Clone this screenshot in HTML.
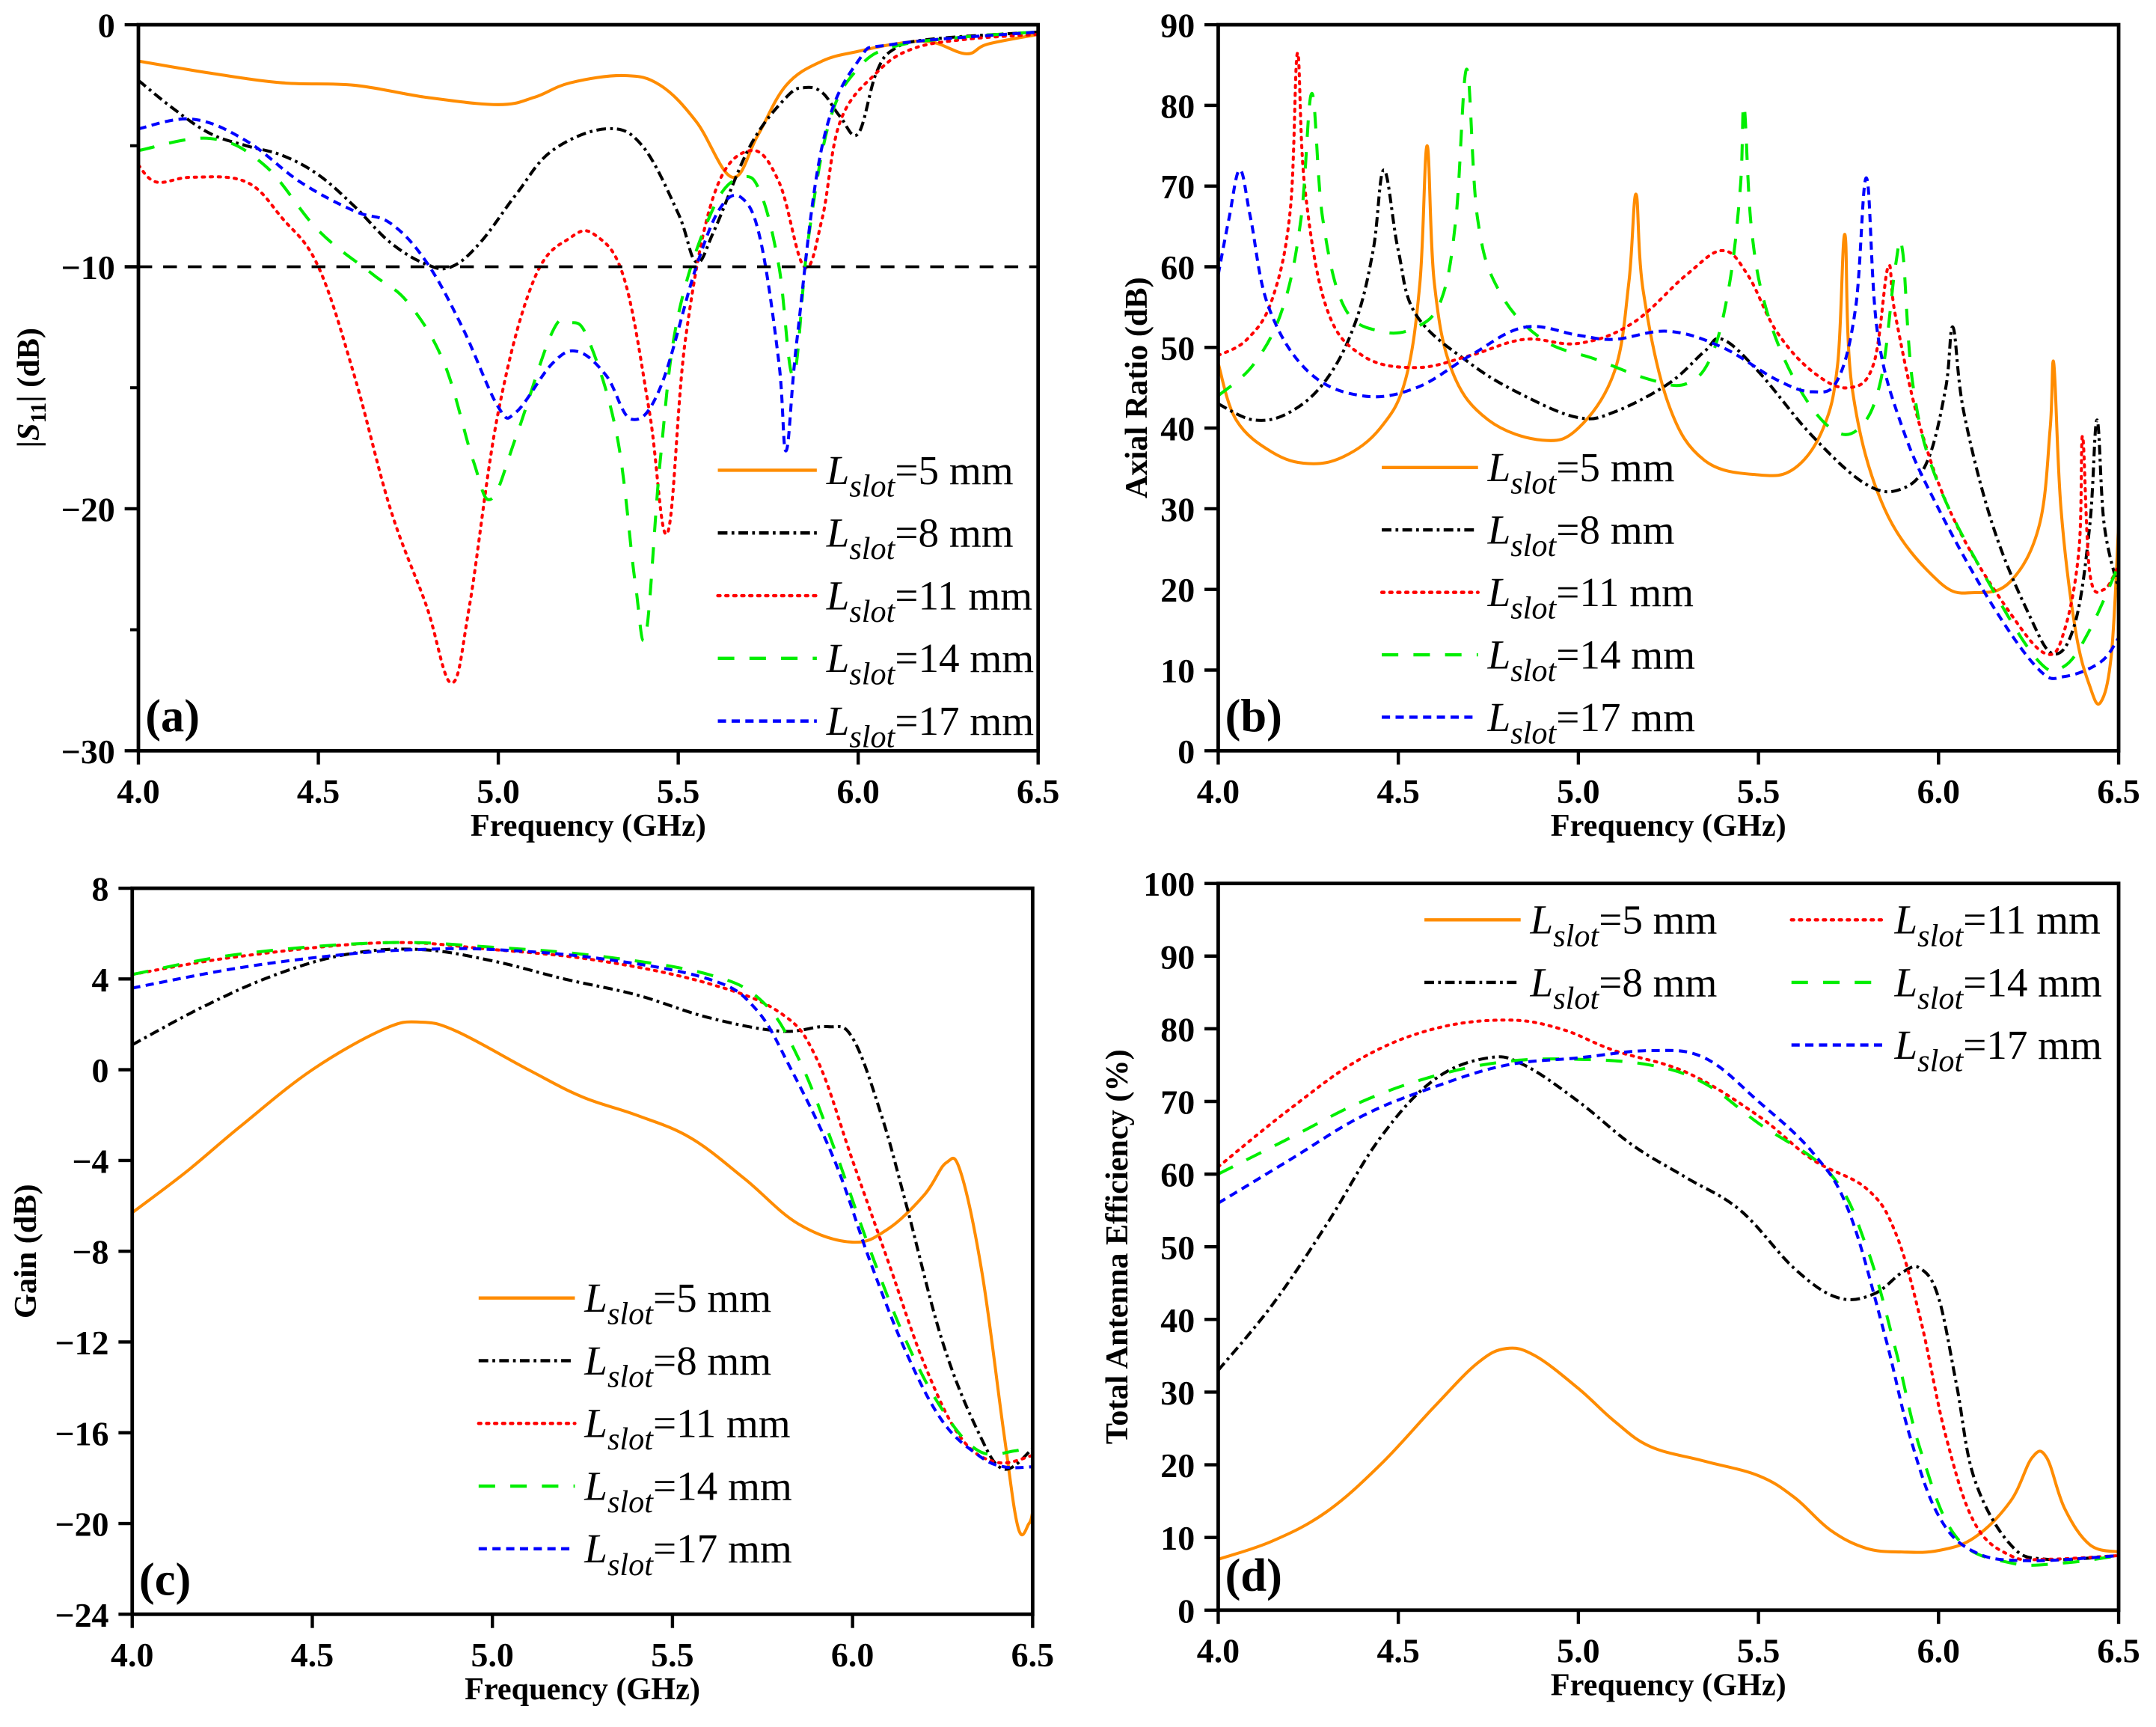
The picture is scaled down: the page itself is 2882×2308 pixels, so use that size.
<!DOCTYPE html>
<html><head><meta charset="utf-8"><style>
html,body{margin:0;padding:0;background:#fff;}
svg{display:block;}
text{font-family:"Liberation Serif",serif;}
.tk{font-size:25px;font-weight:bold;fill:#000;}
.ttl{font-size:23px;font-weight:bold;fill:#000;}
.lg{font-size:30px;fill:#000;}
.pl{font-size:34px;font-weight:bold;fill:#000;}
</style></head><body>
<svg id="fig" width="2882" height="2308" viewBox="0 0 1568 1256" xmlns="http://www.w3.org/2000/svg"></svg>
<script>
// ---------- data ----------
const seriesNames=["5","8","11","14","17"];
const aTicksY=[0,-10,-20,-30];
const bTicksY=[0,10,20,30,40,50,60,70,80,90];
const cTicksY=[8,4,0,-4,-8,-12,-16,-20,-24];
const dTicksY=[0,10,20,30,40,50,60,70,80,90,100];
const xTicks=[4.0,4.5,5.0,5.5,6.0,6.5];
const s11_5=[[4.0,-1.5],[4.2,-2],[4.4,-2.4],[4.6,-2.5],[4.8,-3],[5.0,-3.3],[5.1,-3],[5.2,-2.4],[5.35,-2.1],[5.45,-2.5],[5.55,-4],[5.65,-6.3],[5.72,-4.6],[5.8,-2.5],[5.9,-1.5],[6.0,-1.1],[6.1,-0.8],[6.2,-0.7],[6.3,-1.2],[6.36,-0.8],[6.5,-0.4]];
const s11_8=[[4.0,-2.3],[4.1,-3.5],[4.2,-4.5],[4.3,-5],[4.4,-5.4],[4.5,-6.2],[4.6,-7.5],[4.7,-9],[4.8,-9.9],[4.87,-10],[4.95,-9],[5.05,-7],[5.15,-5.2],[5.3,-4.3],[5.4,-5],[5.5,-7.8],[5.55,-9.8],[5.6,-8.5],[5.7,-5],[5.8,-3],[5.85,-2.6],[5.9,-2.8],[5.95,-3.8],[6.0,-4.5],[6.05,-2],[6.1,-1],[6.2,-0.6],[6.5,-0.3]];
const s11_11=[[4.0,-5.8],[4.05,-6.5],[4.15,-6.3],[4.3,-6.5],[4.4,-8],[4.5,-10],[4.6,-14.5],[4.7,-20],[4.8,-24],[4.87,-27.2],[4.92,-24],[5.0,-16],[5.1,-10.5],[5.2,-8.8],[5.27,-8.7],[5.35,-10.5],[5.42,-16],[5.47,-21],[5.52,-13],[5.6,-7],[5.7,-5.2],[5.78,-6.5],[5.85,-10],[5.9,-8],[5.95,-4],[6.05,-2],[6.15,-1],[6.3,-0.6],[6.5,-0.4]];
const s11_14=[[4.0,-5.2],[4.2,-4.7],[4.35,-5.8],[4.5,-8.5],[4.65,-10.3],[4.75,-11.5],[4.85,-14],[4.93,-18],[4.98,-19.6],[5.05,-17],[5.15,-12.7],[5.2,-12.3],[5.25,-13],[5.33,-17],[5.38,-23],[5.41,-25.2],[5.45,-18],[5.5,-12],[5.6,-7.5],[5.68,-6.3],[5.73,-7],[5.78,-10],[5.82,-14.5],[5.86,-9],[5.92,-4],[6.0,-1.8],[6.1,-0.9],[6.3,-0.5],[6.5,-0.3]];
const s11_17=[[4.0,-4.3],[4.15,-3.9],[4.3,-4.8],[4.45,-6.5],[4.6,-7.7],[4.7,-8.2],[4.8,-9.8],[4.9,-12.5],[5.0,-15.8],[5.05,-16],[5.15,-14],[5.22,-13.5],[5.3,-14.5],[5.37,-16.3],[5.45,-15],[5.55,-10],[5.62,-7.5],[5.68,-7.2],[5.73,-9],[5.78,-14],[5.8,-17.6],[5.83,-13],[5.9,-5],[6.0,-1.5],[6.1,-0.8],[6.5,-0.3]];
const ar_5=[[4.0,48],[4.05,41],[4.15,37],[4.25,35.6],[4.35,36.5],[4.45,40],[4.52,46],[4.56,58],[4.58,75],[4.6,58],[4.65,47],[4.75,41],[4.9,38.5],[5.0,40],[5.1,47],[5.14,58],[5.16,69],[5.18,57],[5.25,43],[5.35,36],[5.5,34.2],[5.6,35],[5.68,40],[5.72,48],[5.74,64],[5.76,45],[5.85,30],[6.0,21],[6.1,19.6],[6.2,21],[6.28,28],[6.31,40],[6.32,48],[6.34,30],[6.38,15],[6.42,8],[6.45,6],[6.48,12],[6.5,28]];
const ar_8=[[4.0,43],[4.1,41],[4.2,42],[4.3,46],[4.38,53],[4.43,62],[4.46,72],[4.5,62],[4.55,54],[4.7,48],[4.85,44],[5.0,41.3],[5.1,42],[5.25,45.5],[5.35,49.5],[5.4,51],[5.5,47],[5.65,39],[5.8,33],[5.9,32.5],[5.97,36],[6.02,45],[6.04,52.5],[6.07,42],[6.15,28],[6.25,17],[6.32,12],[6.38,16],[6.42,28],[6.44,41],[6.46,28],[6.5,20]];
const ar_11=[[4.0,49],[4.08,51],[4.15,56],[4.2,67],[4.22,86.5],[4.24,70],[4.3,55],[4.4,49],[4.55,47.5],[4.7,49],[4.85,51],[5.0,50.5],[5.15,53],[5.3,59],[5.4,62],[5.47,59],[5.55,52],[5.65,47],[5.75,45],[5.82,48],[5.86,60],[5.88,54],[5.95,40],[6.05,28],[6.2,17],[6.3,12],[6.35,15],[6.39,25],[6.4,39],[6.42,22],[6.46,20],[6.5,23]];
const ar_14=[[4.0,44],[4.1,48],[4.18,55],[4.23,66],[4.26,81.5],[4.29,66],[4.35,55],[4.45,52],[4.55,52.5],[4.62,56],[4.66,66],[4.69,84.5],[4.72,66],[4.78,57],[4.9,51],[5.05,48.5],[5.2,46],[5.3,45.5],[5.37,49],[5.42,58],[5.45,70],[5.46,80],[5.48,65],[5.52,55],[5.6,46],[5.7,40],[5.78,40],[5.84,46],[5.88,60],[5.9,62],[5.93,45],[6.0,33],[6.15,20],[6.28,11],[6.35,10.5],[6.42,15],[6.5,23]];
const ar_17=[[4.0,59],[4.03,66],[4.06,72],[4.09,66],[4.14,55],[4.25,47],[4.4,44],[4.55,45],[4.7,49],[4.85,52.5],[5.0,51.5],[5.1,51],[5.25,52],[5.4,50],[5.55,46],[5.65,44.5],[5.72,46],[5.77,55],[5.8,71],[5.83,52],[5.9,40],[6.0,30],[6.15,18],[6.28,10],[6.35,9.2],[6.45,11],[6.5,14]];
const g_5=[[4.0,-6.3],[4.15,-4.5],[4.3,-2.5],[4.5,0],[4.7,1.8],[4.8,2.1],[4.9,1.7],[5.1,0],[5.25,-1.2],[5.4,-2],[5.55,-3],[5.7,-4.8],[5.85,-6.8],[6.0,-7.6],[6.1,-7],[6.2,-5.5],[6.26,-4.1],[6.3,-4.5],[6.36,-9],[6.42,-16],[6.46,-20.2],[6.49,-20],[6.5,-19.5]];
const g_8=[[4.0,1.1],[4.2,2.8],[4.4,4.2],[4.6,5.1],[4.8,5.3],[5.0,4.8],[5.2,4],[5.4,3.3],[5.6,2.3],[5.8,1.7],[5.93,1.9],[6.0,1.4],[6.08,-2],[6.15,-6],[6.25,-12],[6.35,-16],[6.42,-17.6],[6.5,-16.7]];
const g_11=[[4.0,4.2],[4.3,5],[4.7,5.6],[5.0,5.3],[5.3,4.8],[5.6,3.8],[5.8,2.5],[5.9,0.5],[6.0,-4],[6.1,-8.5],[6.2,-13],[6.3,-16.2],[6.4,-17.3],[6.5,-17]];
const g_14=[[4.0,4.2],[4.3,5.1],[4.7,5.6],[5.0,5.4],[5.3,5],[5.6,4.2],[5.75,3],[5.85,0.5],[5.95,-3.5],[6.05,-8],[6.15,-12],[6.25,-15],[6.35,-16.8],[6.45,-16.8],[6.5,-16.5]];
const g_17=[[4.0,3.6],[4.3,4.5],[4.6,5.1],[4.8,5.3],[5.0,5.3],[5.3,4.9],[5.6,4],[5.73,2.7],[5.83,0],[5.95,-4],[6.05,-8.5],[6.15,-12.5],[6.25,-15.5],[6.35,-17],[6.42,-17.5],[6.5,-17.5]];
const e_5=[[4.0,7],[4.15,9.5],[4.3,13.5],[4.45,20],[4.6,28],[4.72,34],[4.8,36],[4.88,35],[5.0,30.5],[5.1,26],[5.2,22.5],[5.35,20.5],[5.5,18.5],[5.6,15.5],[5.7,11],[5.8,8.5],[5.9,8],[6.0,8.2],[6.1,10],[6.2,15],[6.26,21],[6.3,21],[6.35,14],[6.42,9],[6.5,8]];
const e_8=[[4.0,33],[4.15,42],[4.3,53],[4.45,65],[4.6,73],[4.75,76],[4.85,75],[5.0,70],[5.15,64],[5.3,59.5],[5.45,55],[5.6,47],[5.72,43],[5.82,43.5],[5.9,46.5],[5.95,47],[6.0,43],[6.05,31],[6.1,18],[6.2,9],[6.3,7],[6.5,7.5]];
const e_11=[[4.0,61],[4.2,69],[4.4,76],[4.6,80],[4.8,81.2],[4.95,80],[5.1,77],[5.3,74],[5.5,68],[5.65,62],[5.8,58],[5.88,52],[5.95,40],[6.02,24],[6.1,12],[6.2,7.5],[6.3,7],[6.5,7.5]];
const e_14=[[4.0,60],[4.2,65],[4.4,70],[4.6,73.5],[4.8,75.5],[5.0,75.8],[5.2,75],[5.35,72.5],[5.5,67],[5.7,60],[5.8,50],[5.88,36],[5.95,22],[6.05,10],[6.2,6.5],[6.35,6.5],[6.5,7.5]];
const e_17=[[4.0,56],[4.2,62],[4.4,68],[4.6,72],[4.8,75],[5.0,76],[5.2,77],[5.35,76],[5.5,70],[5.65,63],[5.75,55],[5.85,38],[5.92,24],[6.0,13],[6.1,8],[6.25,6.8],[6.5,7.5]];

const NS="http://www.w3.org/2000/svg";
const svg=document.getElementById('fig');
const styles=[
 {c:"#ff8c00",d:""},
 {c:"#000000",d:"7,3,2,3"},
 {c:"#ff0000",d:"1.6,4.2"},
 {c:"#00ee00",d:"12,11"},
 {c:"#0000ff",d:"6,4"}];
function mk(tag,attrs,parent){const e=document.createElementNS(NS,tag);for(const k in attrs)e.setAttribute(k,attrs[k]);(parent||svg).appendChild(e);return e;}
function smooth(pts){let d="M"+pts[0][0].toFixed(2)+","+pts[0][1].toFixed(2);
 for(let i=0;i<pts.length-1;i++){const p0=pts[Math.max(0,i-1)],p1=pts[i],p2=pts[i+1],p3=pts[Math.min(pts.length-1,i+2)];
  const t=0.18;const c1=[p1[0]+(p2[0]-p0[0])*t,p1[1]+(p2[1]-p0[1])*t];const c2=[p2[0]-(p3[0]-p1[0])*t,p2[1]-(p3[1]-p1[1])*t];
  d+=" C"+c1[0].toFixed(2)+","+c1[1].toFixed(2)+" "+c2[0].toFixed(2)+","+c2[1].toFixed(2)+" "+p2[0].toFixed(2)+","+p2[1].toFixed(2);}
 return d;}
function panel(cfg){
 const g=mk('g',{});
 
 
 const X=v=>cfg.x0+(v-4)/(2.5)*(cfg.x1-cfg.x0);
 const Y=v=>cfg.y1-(v-cfg.ymin)/(cfg.ymax-cfg.ymin)*(cfg.y1-cfg.y0);
 cfg.series.forEach((s,i)=>{
  const p=mk('path',{d:smooth(s.map(q=>[X(q[0]),Y(q[1])])),fill:'none',stroke:styles[i].c,'stroke-width':2.2,'stroke-dasharray':styles[i].d,'stroke-linecap':i==2?'round':'butt'},g);
  
  
 });
 if(cfg.ref!==undefined){const r=mk('line',{x1:cfg.x0,x2:cfg.x1,y1:Y(cfg.ref),y2:Y(cfg.ref),stroke:'#000','stroke-width':2,'stroke-dasharray':'10,8'},g);
  }
 const f=mk('rect',{x:cfg.x0,y:cfg.y0,width:cfg.x1-cfg.x0,height:cfg.y1-cfg.y0,fill:'none',stroke:'#000','stroke-width':2.6},g);
 
 xTicks.forEach(v=>{mk('line',{x1:X(v),x2:X(v),y1:cfg.y1,y2:cfg.y1+10,stroke:'#000','stroke-width':2.4},g);
  const t=mk('text',{x:X(v),y:cfg.y1+38,'text-anchor':'middle',class:'tk'},g);t.textContent=v.toFixed(1);
  });
 cfg.ticks.forEach((v,i)=>{mk('line',{x1:cfg.x0-10,x2:cfg.x0,y1:Y(v),y2:Y(v),stroke:'#000','stroke-width':2.4},g);
  const t=mk('text',{x:cfg.x0-17,y:Y(v)+9,'text-anchor':'end',class:'tk'},g);t.textContent=(v<0?'\u2212'+(-v):String(v));
  
  if(cfg.minor&&i<cfg.ticks.length-1){const m=(v+cfg.ticks[i+1])/2;mk('line',{x1:cfg.x0-6,x2:cfg.x0,y1:Y(m),y2:Y(m),stroke:'#000','stroke-width':2.2},g);}});
 const xt=mk('text',{x:(cfg.x0+cfg.x1)/2,y:cfg.y1+62,'text-anchor':'middle',class:'ttl'},g);xt.textContent='Frequency (GHz)';
 
 const yt=mk('text',{x:0,y:0,'text-anchor':'middle',class:'ttl',transform:`translate(${cfg.ytx},${(cfg.y0+cfg.y1)/2}) rotate(-90)`},g);
 yt.innerHTML=cfg.ytitle;
 
 const pl=mk('text',{x:cfg.x0+5,y:cfg.y1-14,class:'pl'},g);pl.textContent=cfg.label;
 
 cfg.legend.forEach((L,i)=>{
  const lg=mk('g',{},g);
  
  
  mk('line',{x1:L[0],x2:L[0]+L[2],y1:L[1],y2:L[1],stroke:styles[i].c,'stroke-width':2.4,'stroke-dasharray':styles[i].d,'stroke-linecap':i==2?'round':'butt'},lg);
  const t=mk('text',{x:L[0]+L[2]+7,y:L[1]+10,class:'lg'},lg);
  t.innerHTML='<tspan font-style="italic">L</tspan><tspan font-style="italic" font-size="23" dy="9">slot</tspan><tspan dy="-9">='+seriesNames[i]+' mm</tspan>';
 });
}
const legA=[0,1,2,3,4].map(i=>[522,342+i*45.6,72]);
panel({name:'panel-a-s11',x0:100.5,x1:755,y0:18,y1:546,ymin:-30,ymax:0,ticks:aTicksY,minor:true,ref:-10,
 series:[s11_5,s11_8,s11_11,s11_14,s11_17],ytx:28,ytitle:'|<tspan font-style="italic">S</tspan><tspan font-size="16" dy="5">11</tspan><tspan dy="-5">| (dB)</tspan>',label:'(a)',legend:legA});
const legB=[0,1,2,3,4].map(i=>[1005,340+i*45.4,70]);
panel({name:'panel-b-axial-ratio',x0:886,x1:1541,y0:18,y1:546,ymin:0,ymax:90,ticks:bTicksY,minor:false,
 series:[ar_5,ar_8,ar_11,ar_14,ar_17],ytx:834,ytitle:'Axial Ratio (dB)',label:'(b)',legend:legB});
const legC=[0,1,2,3,4].map(i=>[348,944+i*45.6,70]);
panel({name:'panel-c-gain',x0:96,x1:751,y0:646,y1:1174,ymin:-24,ymax:8,ticks:cTicksY,minor:false,
 series:[g_5,g_8,g_11,g_14,g_17],ytx:26,ytitle:'Gain (dB)',label:'(c)',legend:legC});
const legD=[[1036,669,70],[1036,714.5,70],[1303,669,68],[1303,714.5,68],[1303,760,68]];
panel({name:'panel-d-efficiency',x0:886,x1:1541,y0:642.5,y1:1171,ymin:0,ymax:100,ticks:dTicksY,minor:false,
 series:[e_5,e_8,e_11,e_14,e_17],ytx:820,ytitle:'Total Antenna Efficiency (%)',label:'(d)',legend:legD});
</script>
</body></html>
